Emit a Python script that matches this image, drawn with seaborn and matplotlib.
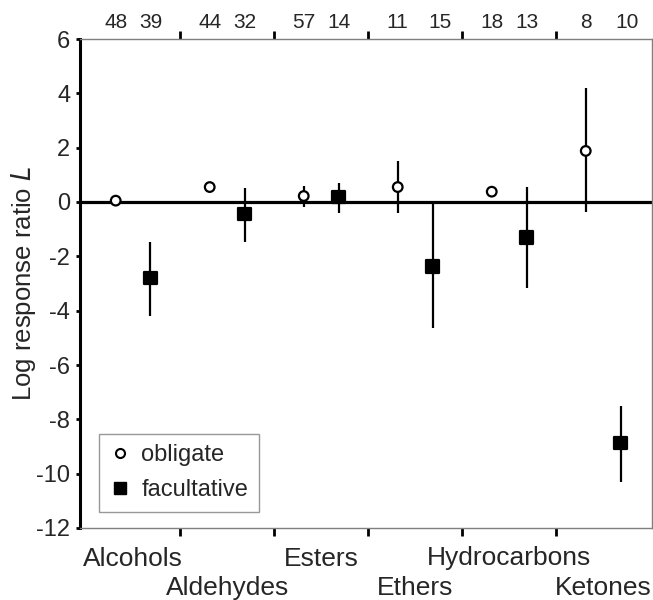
import matplotlib
matplotlib.use("Agg")
import matplotlib.pyplot as plt
from matplotlib.lines import Line2D
import seaborn as sns
import pandas as pd
import numpy as np

categories = ["Alcohols", "Aldehydes", "Esters", "Ethers", "Hydrocarbons", "Ketones"]

obligate_L = [0.05, 0.55, 0.22, 0.55, 0.38, 1.88]
obligate_low = [-0.10, 0.42, -0.18, -0.40, 0.26, -0.37]
obligate_high = [0.18, 0.68, 0.60, 1.50, 0.50, 4.18]

facultative_L = [-2.80, -0.45, 0.18, -2.37, -1.30, -8.88]
facultative_low = [-4.20, -1.48, -0.40, -4.65, -3.18, -10.30]
facultative_high = [-1.46, 0.52, 0.70, -0.07, 0.55, -7.50]

n_obligate = [48, 44, 57, 11, 18, 8]
n_facultative = [39, 32, 14, 15, 13, 10]

sns.set_style("white")
plt.rcParams["font.family"] = ["Liberation Sans", "DejaVu Sans"]
plt.rcParams["axes.unicode_minus"] = False

offset = 0.185
idx = np.arange(len(categories))
df = pd.concat([
    pd.DataFrame({"x": idx - offset, "L": obligate_L, "lo": obligate_low,
                  "hi": obligate_high, "n": n_obligate, "type": "obligate",
                  "nudge": [0, 0, 0, 0, 0, 0]}),
    pd.DataFrame({"x": idx + offset, "L": facultative_L, "lo": facultative_low,
                  "hi": facultative_high, "n": n_facultative, "type": "facultative",
                  "nudge": [0, 0, 0, 0.08, 0, 0.07]}),
], ignore_index=True)

fig = plt.figure(figsize=(6.53, 6.0), dpi=100)
ax = fig.add_axes([0.1225, 0.12, 0.876, 0.815])

ax.axhline(0, color="black", lw=2.3, zorder=1)
ax.vlines(df["x"], df["lo"], df["hi"], color="black", lw=1.6, zorder=2)

sns.scatterplot(data=df, x="x", y="L", style="type", hue="type",
                markers={"obligate": "o", "facultative": "s"},
                palette={"obligate": "white", "facultative": "black"},
                size="type", sizes={"obligate": 48, "facultative": 80},
                edgecolor="black", linewidth=1.6, zorder=3, ax=ax, legend=False)

ax.set_xlim(-0.565, 5.52)
ax.set_ylim(-12, 6)
ax.set_yticks(np.arange(-12, 7, 2))
ax.set_ylabel("Log response ratio $\\it{L}$", fontsize=18.5, labelpad=-1)
ax.set_xlabel("")

for side in ["top", "right", "bottom"]:
    ax.spines[side].set_color("#7f7f7f")
    ax.spines[side].set_linewidth(1.0)
ax.spines["left"].set_color("black")
ax.spines["left"].set_linewidth(2.2)

ax.tick_params(axis="y", direction="out", length=3, width=2, color="black",
               labelsize=17, pad=4, left=True)

# category separators on the bottom axis
seps = idx[:-1] + 0.5
ax.set_xticks(seps)
ax.set_xticklabels([])
ax.tick_params(axis="x", which="major", direction="out", length=6, width=2,
               color="black", bottom=True)

# category names in two staggered rows
for i, name in enumerate(categories):
    drop = 27 if i % 2 == 0 else 48
    ax.annotate(name, xy=(i, 0), xycoords=ax.get_xaxis_transform(),
                xytext=(0, -drop), textcoords="offset points",
                ha="center", va="baseline", fontsize=19, annotation_clip=False)

# sample sizes along the top
top = ax.secondary_xaxis("top")
top.set_xticks(seps)
top.set_xticklabels([])
top.tick_params(axis="x", which="major", direction="out", length=6, width=2,
                color="black")
top.set_xticks(df["x"] + df["nudge"], minor=True)
top.set_xticklabels([str(v) for v in df["n"]], minor=True, fontsize=15)
top.tick_params(axis="x", which="minor", length=0, pad=5)
top.spines["top"].set_visible(False)

handles = [
    Line2D([], [], marker="o", ls="none", markerfacecolor="white",
           markeredgecolor="black", markeredgewidth=1.5, markersize=6.5),
    Line2D([], [], marker="s", ls="none", markerfacecolor="black",
           markeredgecolor="black", markersize=8.5),
]
leg = ax.legend(handles, ["obligate", "facultative"], loc="lower left",
                bbox_to_anchor=(0.033, 0.033), fontsize=17, frameon=True,
                fancybox=False, edgecolor="#7f7f7f", handlelength=0.9,
                handletextpad=0.45, labelspacing=0.55, borderpad=0.45,
                borderaxespad=0)
leg.get_frame().set_linewidth(1.0)

fig.savefig("out.png", dpi=100)
